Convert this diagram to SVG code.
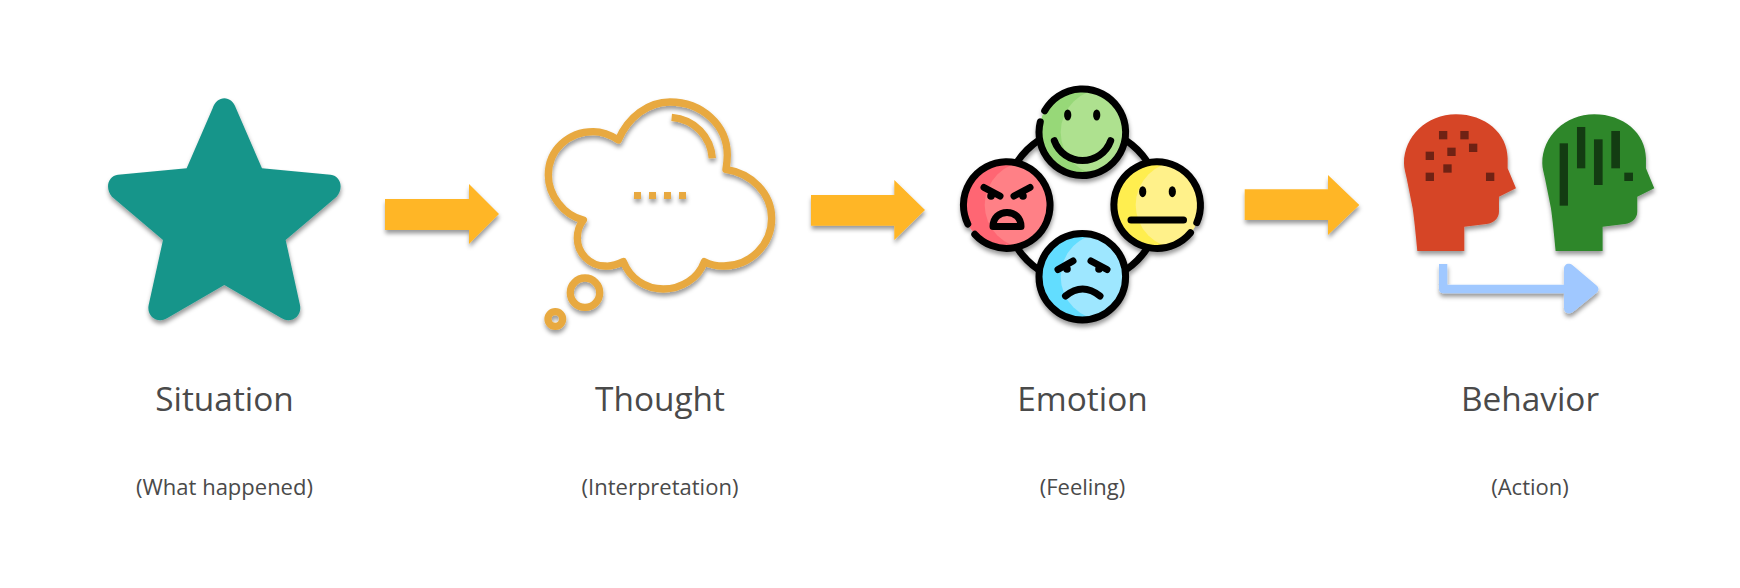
<svg xmlns="http://www.w3.org/2000/svg" width="1740" height="588" viewBox="0 0 1740 588">
<style>
.title{font-family:"Open Sans","Liberation Sans",sans-serif;font-size:33.4px;fill:#4a4a4a;text-anchor:middle}
.sub{font-family:"Open Sans","Liberation Sans",sans-serif;font-size:22px;fill:#4a4a4a;text-anchor:middle}
.flow{fill:#FFB627}
.cloud{fill:none;stroke:#E8A93F;stroke-width:7.3}
.ln{fill:none;stroke:#000;stroke-width:7;stroke-linecap:round;stroke-linejoin:round}
.eye{fill:#000}
.rd{fill:#6F2214}
.gd{fill:#133C12}
</style>
<defs>
<filter id="sh" x="-20%" y="-20%" width="140%" height="140%"><feDropShadow dx="0.5" dy="3.5" stdDeviation="2.2" flood-color="#000" flood-opacity="0.4"/></filter>
<clipPath id="cg"><circle cx="1082.3" cy="132.3" r="43.3"/></clipPath>
<clipPath id="cr"><circle cx="1006.7" cy="205" r="43.3"/></clipPath>
<clipPath id="cy"><circle cx="1157.3" cy="205" r="43.3"/></clipPath>
<clipPath id="cb"><circle cx="1082.3" cy="276.7" r="43.3"/></clipPath>
<path id="head" d="M562,513H703V440L770,432C793,429 807,413 807,395V350L858,325L833,265V235C833,160 765,103 678,103C590,103 522,170 522,250C522,265 527,280 530,295L548,385C553,420 558,470 562,513Z"/>
</defs>
<rect width="1740" height="588" fill="#fff"/>
<g id="situation">
<g filter="url(#sh)"><path transform="translate(90,80) scale(.3333)" fill="#19958A" d="M290,265L368,85C380,45 426,45 438,85L516,265L722,284C752,287 762,325 740,350L587,480L630,675C637,710 602,732 575,715L403,615L231,715C204,732 169,710 176,675L219,480L66,350C44,325 54,287 84,284Z"/></g>
<text class="title" x="224.5" y="411">Situation</text>
<text class="sub" x="224.5" y="495">(What happened)</text>
</g>
<g id="thought">
<g filter="url(#sh)">
<g transform="translate(500,80) scale(.3333)">
<path fill="none" stroke="#E8A93F" stroke-width="22" stroke-linejoin="round" d="M355,180C385,110 445,66 510,66C605,66 682,135 682,225C682,240 680,255 678,268C755,280 815,340 815,415C815,495 750,558 672,558C650,558 630,554 613,545C595,595 545,627 490,627C435,627 390,595 370,545C350,555 335,560 315,558C270,558 232,520 232,475C232,455 238,435 250,420C190,405 145,345 145,285C145,210 205,155 280,155C305,155 332,165 355,180Z"/>
<path fill="none" stroke="#E8A93F" stroke-width="22" d="M515,112C585,118 632,170 637,235"/>
</g>
<rect x="634" y="192" width="7" height="7" fill="#E8A93F"/>
<rect x="649" y="192" width="7" height="7" fill="#E8A93F"/>
<rect x="664" y="192" width="7" height="7" fill="#E8A93F"/>
<rect x="679" y="192" width="7" height="7" fill="#E8A93F"/>
<circle class="cloud" cx="585" cy="292.7" r="14.7"/>
<circle class="cloud" cx="555.3" cy="319" r="7.3"/>
</g>
<text class="title" x="660" y="411">Thought</text>
<text class="sub" x="660" y="495">(Interpretation)</text>
</g>
<g id="emotion">
<g filter="url(#sh)">
<circle class="ln" cx="1082.3" cy="205" r="78"/>
<g clip-path="url(#cg)"><rect x="1030" y="80" width="110" height="110" fill="#97D878"/><circle cx="1104" cy="132.3" r="43.3" fill="#AEE18F"/></g>
<g clip-path="url(#cr)"><rect x="955" y="150" width="110" height="110" fill="#FF6673"/><circle cx="1028" cy="205" r="43.3" fill="#FF8086"/></g>
<g clip-path="url(#cy)"><rect x="1105" y="150" width="110" height="110" fill="#FFEE50"/><circle cx="1179" cy="205" r="43.3" fill="#FFF18A"/></g>
<g clip-path="url(#cb)"><rect x="1030" y="225" width="110" height="110" fill="#62DDFF"/><circle cx="1104" cy="276.7" r="43.3" fill="#9EE7FF"/></g>
<path class="ln" d="M1044.7,110.8A43.3,43.3 0 1 1 1040.3,121.8"/>
<path class="ln" d="M974.8,234.3A43.3,43.3 0 1 0 967.8,224"/>
<path class="ln" d="M1196.8,222.6A43.3,43.3 0 1 0 1190.5,232.8"/>
<circle class="ln" cx="1082.3" cy="276.7" r="43.3"/>
<ellipse class="eye" cx="1067.7" cy="115" rx="3.6" ry="5.5"/>
<ellipse class="eye" cx="1096.7" cy="115" rx="3.6" ry="5.5"/>
<path class="ln" d="M1054.3,140.7A30,30 0 0 0 1110.7,140.7"/>
<path class="ln" d="M984,187.5L1000,196M1030,187.5L1014,196"/>
<circle class="eye" cx="991" cy="196" r="3.8"/>
<circle class="eye" cx="1023" cy="196" r="3.8"/>
<path class="ln" d="M993,226.5C993,218 999,212.5 1007,212.5C1015,212.5 1021,218 1021,226.5Z"/>
<ellipse class="eye" cx="1142.7" cy="191.7" rx="3.6" ry="5.5"/>
<ellipse class="eye" cx="1172.3" cy="191.7" rx="3.6" ry="5.5"/>
<path class="ln" d="M1131,220H1183.5"/>
<path class="ln" d="M1058,269.5L1073,261M1107,269.5L1091,261"/>
<circle class="eye" cx="1067" cy="269" r="3.8"/>
<circle class="eye" cx="1099" cy="269" r="3.8"/>
<path class="ln" d="M1065.5,296Q1082.5,282 1100,296"/>
</g>
<text class="title" x="1082.5" y="411">Emotion</text>
<text class="sub" x="1082.5" y="495">(Feeling)</text>
</g>
<g id="behavior">
<g filter="url(#sh)"><use href="#head" transform="translate(1230,80) scale(.3333)" fill="#D64527"/></g>
<g filter="url(#sh)"><use href="#head" transform="translate(1368.3,80) scale(.3333)" fill="#2E872B"/></g>
<g transform="translate(1230,80) scale(.3333)">
<rect class="rd" x="627" y="153" width="25" height="25"/><rect class="rd" x="691" y="153" width="25" height="25"/>
<rect class="rd" x="717" y="191" width="25" height="25"/><rect class="rd" x="652" y="203" width="25" height="25"/>
<rect class="rd" x="587" y="215" width="25" height="25"/><rect class="rd" x="640" y="253" width="25" height="25"/>
<rect class="rd" x="587" y="278" width="25" height="25"/><rect class="rd" x="768" y="278" width="25" height="25"/>
<rect class="gd" x="989" y="190" width="25" height="187"/><rect class="gd" x="1041" y="141" width="25" height="124"/>
<rect class="gd" x="1092" y="178" width="26" height="137"/><rect class="gd" x="1144" y="153" width="26" height="112"/>
<rect class="gd" x="1183" y="278" width="26" height="25"/>
</g>
<g filter="url(#sh)"><path transform="translate(1230,80) scale(.3333)" fill="#A0C8FF" d="M627,552H652V614H1002V568C1002,552 1016,547 1028,556L1098,615C1108,623 1108,632 1098,640L1030,695C1016,705 1002,700 1002,684V640H640C632,640 627,635 627,627Z"/></g>
<text class="title" x="1530" y="411">Behavior</text>
<text class="sub" x="1530" y="495">(Action)</text>
</g>
<g id="connectors" filter="url(#sh)">
<path class="flow" d="M385,199H469V184L499,214L469,244V230H385Z"/>
<path class="flow" d="M811,195H894.3V180L925,210L894.3,240V225.7H811Z"/>
<path class="flow" d="M1244.7,189.3H1328V175L1359.3,205L1328,235V220H1244.7Z"/>
</g>
</svg>
